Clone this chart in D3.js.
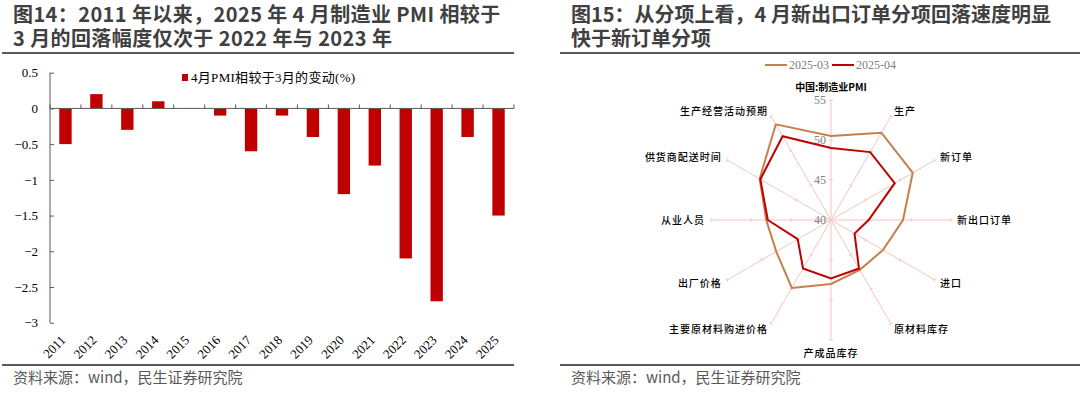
<!DOCTYPE html>
<html>
<head>
<meta charset="utf-8">
<title>PMI 4月回落</title>
<style>
  body { margin: 0; background: #fff; }
  svg { display: block; }
</style>
</head>
<body>
<div id="chart"></div>
<script src="https://cdn.jsdelivr.net/npm/d3@7/dist/d3.min.js"></script>
<script>

  // 图14 数据
  const years = ['2011', '2012', '2013', '2014', '2015', '2016', '2017', '2018',
    '2019', '2020', '2021', '2022', '2023', '2024', '2025']
  const aprChange = [-0.5, 0.2, -0.3, 0.1, 0, -0.1, -0.6, -0.1, -0.4, -1.2, -0.8, -2.1, -2.7, -0.4, -1.5]
  const yTicks = [0.5, 0, -0.5, -1, -1.5, -2, -2.5, -3]

  // 图15 数据
  const radarAxes = ['中国:制造业PMI', '生产', '新订单', '新出口订单', '进口', '原材料库存',
    '产成品库存', '主要原材料购进价格', '出厂价格', '从业人员', '供货商配送时间', '生产经营活动预期']
  const pmiMar = [50.5, 52.6, 51.8, 49.0, 47.5, 47.2, 48.0, 49.8, 47.9, 48.1, 50.3, 53.8]
  const pmiApr = [49.0, 49.8, 49.2, 44.7, 43.4, 47.0, 47.3, 47.0, 44.8, 47.9, 50.2, 52.1]
  const rTicks = [40, 45, 50, 55]

  const W = 1080, H = 393
  const serif = '"Liberation Serif", "Times New Roman", "Noto Sans CJK SC", serif'
  const sans = '"Noto Sans CJK SC", "Microsoft YaHei", sans-serif'

  let svg = d3.select('#chart').append('svg')
    .attr('width', W).attr('height', H)

  //标题与框线
  function frame(x0, x1, lines, tx, ls) {
    let t = svg.append('text')
      .attr('x', tx).attr('y', 22)
      .attr('font-family', sans).attr('font-size', 20).attr('font-weight', 700)
      .attr('letter-spacing', ls)
      .attr('fill', '#404040')
    lines.forEach((s, i) => {
      t.append('tspan').attr('x', tx).attr('dy', i === 0 ? 0 : 24).text(s)
    })
    svg.append('line').attr('x1', x0).attr('x2', x1).attr('y1', 53).attr('y2', 53)
      .attr('stroke', '#595959').attr('stroke-width', 2.2)
    svg.append('line').attr('x1', x0).attr('x2', x1).attr('y1', 365).attr('y2', 365)
      .attr('stroke', '#595959').attr('stroke-width', 2.2)
    svg.append('text')
      .attr('x', tx).attr('y', 383)
      .attr('font-family', sans).attr('font-size', 15)
      .attr('fill', '#595959')
      .text('资料来源：wind，民生证券研究院')
  }
  frame(2, 514, ['图14：2011 年以来，2025 年 4 月制造业 PMI 相较于', '3 月的回落幅度仅次于 2022 年与 2023 年'], 13, 0.4)
  frame(560, 1080, ['图15：从分项上看，4 月新出口订单分项回落速度明显', '快于新订单分项'], 571, 0)

  // ---- 图14 柱状图 ----
  let x = d3.scaleBand().domain(years).range([50, 514]).paddingInner(0.6).paddingOuter(0.3)
  let y = d3.scaleLinear().domain([-3, 0.5]).range([322.7, 72.7])
  const step = x.step()

  let g1 = svg.append('g')

  g1.selectAll('rect.bar')
    .data(years)
    .enter().append('rect')
    .attr('class', 'bar')
    .attr('x', d => x(d))
    .attr('width', x.bandwidth())
    .attr('y', (d, i) => y(Math.max(0, aprChange[i])))
    .attr('height', (d, i) => Math.abs(y(aprChange[i]) - y(0)))
    .attr('fill', '#C00000')

  // y轴
  let yAxis = d3.axisRight(y).tickValues(yTicks).tickSize(4).tickFormat(d3.format('~g'))
  let ya = g1.append('g').attr('transform', 'translate(50,0)').call(yAxis)
  ya.select('.domain').attr('stroke', '#595959').attr('d', `M0,${y(0.5)}V${y(-3)}`)
  ya.selectAll('.tick line').attr('stroke', '#595959')
  ya.selectAll('.tick text')
    .attr('x', -12).attr('text-anchor', 'end')
    .attr('font-family', serif).attr('font-size', 13).attr('fill', '#000')

  // x轴（零线）
  g1.append('line').attr('x1', 50).attr('x2', 514).attr('y1', y(0)).attr('y2', y(0))
    .attr('stroke', '#595959')
  const bounds = years.map(d => x(d) + x.bandwidth() / 2 - step / 2).concat([514])
  g1.selectAll('line.xt')
    .data(bounds)
    .enter().append('line')
    .attr('class', 'xt')
    .attr('x1', d => d).attr('x2', d => d)
    .attr('y1', y(0)).attr('y2', y(0) - 4)
    .attr('stroke', '#595959')

  g1.selectAll('text.yr')
    .data(years)
    .enter().append('text')
    .attr('class', 'yr')
    .attr('transform', d => `translate(${x(d) + x.bandwidth() / 2 + 1},341) rotate(-45)`)
    .attr('text-anchor', 'end')
    .attr('font-family', serif).attr('font-size', 13)
    .text(d => d)

  // 图例
  g1.append('rect').attr('x', 182).attr('y', 74).attr('width', 6).attr('height', 7).attr('fill', '#C00000')
  g1.append('text').attr('x', 191).attr('y', 82)
    .attr('font-family', serif).attr('font-size', 13).attr('letter-spacing', 0.3)
    .text('4月PMI相较于3月的变动(%)')

  // ---- 图15 雷达图 ----
  const cx = 831, cy = 220
  let r = d3.scaleLinear().domain([40, 55]).range([0, 120])
  const ang = i => i * 2 * Math.PI / radarAxes.length
  const px = (i, v) => cx + r(v) * Math.sin(ang(i))
  const py = (i, v) => cy - r(v) * Math.cos(ang(i))

  let g2 = svg.append('g')

  g2.selectAll('line.spoke')
    .data(radarAxes)
    .enter().append('line')
    .attr('class', 'spoke')
    .attr('x1', cx).attr('y1', cy)
    .attr('x2', (d, i) => px(i, 55)).attr('y2', (d, i) => py(i, 55))
    .attr('stroke', '#F4C4C0').attr('stroke-width', 1)

  // 轴上刻度
  radarAxes.forEach((a, i) => {
    rTicks.slice(1).forEach(v => {
      const t = ang(i), len = 2
      g2.append('line')
        .attr('x1', px(i, v) - len * Math.cos(t)).attr('y1', py(i, v) - len * Math.sin(t))
        .attr('x2', px(i, v) + len * Math.cos(t)).attr('y2', py(i, v) + len * Math.sin(t))
        .attr('stroke', '#F4C4C0')
    })
  })

  g2.selectAll('text.rt')
    .data(rTicks)
    .enter().append('text')
    .attr('class', 'rt')
    .attr('x', cx - 5).attr('y', d => cy - r(d) + 4)
    .attr('text-anchor', 'end')
    .attr('font-family', serif).attr('font-size', 12).attr('fill', '#808080')
    .text(d => d)

  let line = d3.line().curve(d3.curveLinearClosed)
  const series = [
    { name: '2025-03', vals: pmiMar, color: '#C5804B' },
    { name: '2025-04', vals: pmiApr, color: '#C00000' }
  ]
  series.forEach(s => {
    g2.append('path')
      .attr('d', line(s.vals.map((v, i) => [px(i, v), py(i, v)])))
      .attr('fill', 'none').attr('stroke', s.color).attr('stroke-width', 2)
      .attr('stroke-linejoin', 'miter')
  })

  g2.selectAll('text.lab')
    .data(radarAxes)
    .enter().append('text')
    .attr('class', 'lab')
    .attr('x', (d, i) => cx + 126 * Math.sin(ang(i)))
    .attr('y', (d, i) => {
      const c = Math.cos(ang(i))
      let yy = cy - 126 * c + 4
      if (Math.abs(c) > 0.99) yy -= c * 7
      return yy
    })
    .attr('text-anchor', (d, i) => {
      const s = Math.sin(ang(i))
      return s > 0.1 ? 'start' : (s < -0.1 ? 'end' : 'middle')
    })
    .attr('font-family', sans).attr('font-size', 10)
    .attr('font-weight', (d, i) => i === 0 ? 700 : 500)
    .attr('letter-spacing', (d, i) => i === 0 ? 0 : 1)
    .attr('fill', '#000')
    .text(d => d)

  // 图例
  const legX = [765, 832]
  series.forEach((s, i) => {
    g2.append('line').attr('x1', legX[i]).attr('x2', legX[i] + 22).attr('y1', 65).attr('y2', 65)
      .attr('stroke', s.color).attr('stroke-width', 2)
    g2.append('text').attr('x', legX[i] + 24).attr('y', 69)
      .attr('font-family', serif).attr('font-size', 12).attr('fill', '#808080')
      .text(s.name)
  })

</script>
</body>
</html>
